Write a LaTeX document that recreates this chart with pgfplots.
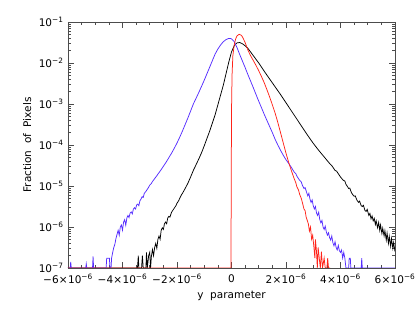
\documentclass[border=0pt]{standalone}
\usepackage{fontspec}
\setmainfont{DejaVu Sans}
\usepackage{pgfplots}
\pgfplotsset{compat=1.18}
\definecolor{myblue}{RGB}{85,45,255}
\definecolor{myred}{RGB}{255,35,25}
\newcommand{\sci}[2]{#1\kern0.3pt×\kern0.3pt10\textsuperscript{#2}}
\newcommand{\dec}[1]{10\textsuperscript{#1}}
\begin{document}
\begin{tikzpicture}
\path[use as bounding box] (0,0) rectangle (415pt,312pt);
\begin{axis}[
  at={(68pt,44pt)}, anchor=south west,
  scale only axis, width=327pt, height=246pt,
  ymode=log, xmin=-6, xmax=6, ymin=1e-7, ymax=1e-1,
  xtick={-6,-4,-2,0,2,4,6},
  xticklabels={\sci{−6}{−6},\sci{−4}{−6},\sci{−2}{−6},0,\sci{2}{−6},\sci{4}{−6},\sci{6}{−6}},
  minor x tick num=3,
  ytick={1e-7,1e-6,1e-5,1e-4,1e-3,1e-2,1e-1},
  yticklabels={\dec{−7},\dec{−6},\dec{−5},\dec{−4},\dec{−3},\dec{−2},\dec{−1}},
  minor ytick={2e-7,3e-7,4e-7,5e-7,6e-7,7e-7,8e-7,9e-7,
               2e-6,3e-6,4e-6,5e-6,6e-6,7e-6,8e-6,9e-6,
               2e-5,3e-5,4e-5,5e-5,6e-5,7e-5,8e-5,9e-5,
               2e-4,3e-4,4e-4,5e-4,6e-4,7e-4,8e-4,9e-4,
               2e-3,3e-3,4e-3,5e-3,6e-3,7e-3,8e-3,9e-3,
               2e-2,3e-2,4e-2,5e-2,6e-2,7e-2,8e-2,9e-2},
  tick align=inside,
  major tick length=6pt, minor tick length=3pt,
  axis line style={black!70, line width=0.6pt},
  every tick/.style={black!70, line width=0.5pt},
  tick label style={font=\fontsize{10.5}{12}\selectfont},
  xticklabel style={yshift=-3pt},
  yticklabel style={xshift=-1pt},
  label style={font=\fontsize{10.5}{12}\selectfont},
  xlabel={y\ \ parameter}, ylabel={Fraction\ \ of\ \ Pixels},
  xlabel style={at={(axis description cs:0.5,-0.114)}, anchor=center},
  ylabel style={at={(axis description cs:-0.125,0.5)}, anchor=center},
  every axis plot/.append style={line width=0.75pt},
]
% black series
\addplot[black] table {
-6.00 1e-7
-3.45 1e-7
-3.42 2.0e-7
-3.40 1e-7
-3.30 1e-7
-3.27 2.0e-7
-3.24 1e-7
-3.14 1e-7
-3.12 2.4e-7
-3.09 1e-7
-3.04 2.0e-7
-3.00 2.4e-7
-2.97 1e-7
-2.94 1.91e-7
-2.90 2.82e-7
-2.86 2.00e-7
-2.82 3.16e-7
-2.78 3.98e-7
-2.74 3.02e-7
-2.70 5.01e-7
-2.66 6.03e-7
-2.62 5.01e-7
-2.58 8.32e-7
-2.54 9.55e-7
-2.50 8.71e-7
-2.46 1.20e-6
-2.42 1.32e-6
-2.38 1.20e-6
-2.34 1.66e-6
-2.30 1.82e-6
-2.26 1.74e-6
-2.20 2.29e-6
-2.14 2.63e-6
-2.10 2.88e-6
-2.04 3.31e-6
-2.00 3.80e-6
-1.94 4.37e-6
-1.90 5.01e-6
-1.84 6.03e-6
-1.80 6.61e-6
-1.70 8.71e-6
-1.60 1.17e-5
-1.50 1.66e-5
-1.40 2.40e-5
-1.30 3.31e-5
-1.20 4.57e-5
-1.10 6.46e-5
-1.00 9.55e-5
-0.90 1.45e-4
-0.80 2.19e-4
-0.70 3.47e-4
-0.60 5.50e-4
-0.50 9.55e-4
-0.40 1.66e-3
-0.30 2.88e-3
-0.20 5.50e-3
-0.10 1.05e-2
0.00 1.86e-2
0.10 2.63e-2
0.20 3.09e-2
0.30 3.16e-2
0.40 2.95e-2
0.50 2.63e-2
0.60 2.29e-2
0.80 1.51e-2
1.00 1.00e-2
1.20 6.31e-3
1.40 4.07e-3
1.60 2.63e-3
1.80 1.70e-3
2.00 1.07e-3
2.20 6.76e-4
2.40 4.27e-4
2.60 2.69e-4
2.80 1.70e-4
3.00 1.10e-4
3.20 7.41e-5
3.40 5.13e-5
3.60 3.55e-5
3.70 3.02e-5
3.80 2.40e-5
3.86 2.29e-5
3.90 2.09e-5
4.00 1.66e-5
4.10 1.38e-5
4.16 1.32e-5
4.20 1.10e-5
4.30 8.71e-6
4.34 8.91e-6
4.40 6.92e-6
4.46 6.03e-6
4.50 5.62e-6
4.54 5.75e-6
4.60 4.57e-6
4.66 3.98e-6
4.70 4.27e-6
4.76 3.31e-6
4.80 3.16e-6
4.84 3.39e-6
4.90 2.51e-6
4.94 2.40e-6
4.98 2.69e-6
5.04 1.91e-6
5.08 2.14e-6
5.12 1.58e-6
5.16 1.86e-6
5.20 1.41e-6
5.24 1.62e-6
5.28 1.15e-6
5.31 1.41e-6
5.36 9.55e-7
5.40 1.29e-6
5.44 8.32e-7
5.47 1.12e-6
5.52 6.92e-7
5.55 9.33e-7
5.60 6.03e-7
5.63 8.13e-7
5.68 4.79e-7
5.71 7.08e-7
5.76 3.98e-7
5.79 5.89e-7
5.84 3.39e-7
5.87 5.25e-7
5.92 3.02e-7
5.95 4.17e-7
6.00 2.51e-7
};
% blue series
\addplot[myblue] table {
-6.00 1e-7
-5.92 1e-7
-5.90 1.41e-7
-5.88 1e-7
-5.35 1e-7
-5.33 1.26e-7
-5.31 1e-7
-5.10 1e-7
-5.08 1.91e-7
-5.06 1e-7
-4.60 1e-7
-4.58 1.74e-7
-4.48 1.74e-7
-4.46 1e-7
-4.42 1e-7
-4.40 1.74e-7
-4.36 2.40e-7
-4.32 3.16e-7
-4.28 3.80e-7
-4.24 5.25e-7
-4.20 6.61e-7
-4.16 8.32e-7
-4.12 6.31e-7
-4.08 1.00e-6
-4.04 1.12e-6
-4.00 8.32e-7
-3.96 1.32e-6
-3.92 1.51e-6
-3.88 1.10e-6
-3.84 1.66e-6
-3.80 1.91e-6
-3.76 1.70e-6
-3.72 2.19e-6
-3.68 2.34e-6
-3.64 2.09e-6
-3.60 2.75e-6
-3.56 2.95e-6
-3.52 2.75e-6
-3.48 3.47e-6
-3.44 3.63e-6
-3.40 3.31e-6
-3.36 4.37e-6
-3.32 4.79e-6
-3.28 5.50e-6
-3.24 5.25e-6
-3.20 6.61e-6
-3.14 7.41e-6
-3.10 8.13e-6
-3.04 9.33e-6
-3.00 1.05e-5
-2.94 1.15e-5
-2.90 1.29e-5
-2.84 1.45e-5
-2.80 1.58e-5
-2.74 1.78e-5
-2.70 1.95e-5
-2.60 2.40e-5
-2.50 3.02e-5
-2.40 3.80e-5
-2.30 4.90e-5
-2.20 6.31e-5
-2.10 8.32e-5
-2.00 1.12e-4
-1.90 1.55e-4
-1.80 2.19e-4
-1.70 3.16e-4
-1.60 4.57e-4
-1.50 6.76e-4
-1.40 1.00e-3
-1.30 1.38e-3
-1.20 1.91e-3
-1.10 2.69e-3
-1.00 3.80e-3
-0.90 5.50e-3
-0.80 7.94e-3
-0.70 1.15e-2
-0.60 1.66e-2
-0.50 2.19e-2
-0.40 2.75e-2
-0.30 3.31e-2
-0.20 3.72e-2
-0.10 3.98e-2
-0.05 3.98e-2
0.00 3.89e-2
0.10 3.31e-2
0.20 2.40e-2
0.30 1.62e-2
0.40 1.12e-2
0.50 7.76e-3
0.60 5.25e-3
0.70 3.63e-3
0.80 2.51e-3
0.90 1.70e-3
1.00 1.17e-3
1.10 8.13e-4
1.20 5.62e-4
1.30 3.98e-4
1.40 2.82e-4
1.50 2.00e-4
1.60 1.38e-4
1.70 1.00e-4
1.80 7.41e-5
1.90 5.62e-5
2.00 4.37e-5
2.10 3.55e-5
2.20 2.82e-5
2.30 2.19e-5
2.36 2.00e-5
2.40 1.74e-5
2.46 1.51e-5
2.50 1.38e-5
2.56 1.26e-5
2.60 1.05e-5
2.66 8.71e-6
2.70 9.12e-6
2.76 6.92e-6
2.80 5.75e-6
2.84 6.61e-6
2.88 4.79e-6
2.92 3.98e-6
2.96 4.57e-6
3.00 3.31e-6
3.04 2.75e-6
3.08 3.16e-6
3.12 2.19e-6
3.16 1.91e-6
3.20 2.29e-6
3.24 1.51e-6
3.28 1.26e-6
3.32 1.45e-6
3.36 1.00e-6
3.40 8.71e-7
3.44 1.05e-6
3.48 7.59e-7
3.52 6.31e-7
3.56 7.24e-7
3.60 5.50e-7
3.64 4.79e-7
3.68 6.03e-7
3.72 4.17e-7
3.76 3.47e-7
3.80 4.37e-7
3.84 3.16e-7
3.88 2.75e-7
3.92 3.55e-7
3.96 2.63e-7
4.00 2.40e-7
4.04 2.75e-7
4.08 1.74e-7
4.12 2.40e-7
4.16 1.74e-7
4.20 1e-7
4.30 1e-7
4.32 1.74e-7
4.36 1.74e-7
4.38 1e-7
4.76 1e-7
4.78 1.74e-7
4.80 1e-7
6.00 1e-7
};
% red series
\addplot[myred] table {
-6.00 1e-7
-0.02 1e-7
0.00 6.31e-4
0.02 5.01e-3
0.05 1.51e-2
0.10 2.75e-2
0.15 3.80e-2
0.20 4.57e-2
0.28 5.01e-2
0.35 4.79e-2
0.40 4.37e-2
0.50 3.16e-2
0.60 2.09e-2
0.70 1.51e-2
0.80 1.15e-2
0.90 8.71e-3
1.00 6.46e-3
1.10 4.68e-3
1.20 3.31e-3
1.30 2.24e-3
1.40 1.48e-3
1.50 9.55e-4
1.60 6.03e-4
1.70 3.55e-4
1.80 2.00e-4
1.90 1.12e-4
2.00 6.31e-5
2.10 3.72e-5
2.20 2.34e-5
2.30 1.51e-5
2.36 1.20e-5
2.40 9.55e-6
2.46 7.94e-6
2.50 6.31e-6
2.56 5.01e-6
2.60 3.98e-6
2.66 2.75e-6
2.70 2.51e-6
2.74 1.74e-6
2.78 1.45e-6
2.82 1.20e-6
2.86 7.94e-7
2.90 1.00e-6
2.94 5.01e-7
2.98 6.31e-7
3.02 3.47e-7
3.06 1.74e-7
3.08 5.01e-7
3.12 2.51e-7
3.15 1e-7
3.18 3.16e-7
3.22 1.74e-7
3.26 1e-7
3.30 2.51e-7
3.34 1e-7
3.40 1.74e-7
3.44 1e-7
3.50 1e-7
3.53 1.74e-7
3.56 1e-7
3.62 1e-7
};
\end{axis}
\end{tikzpicture}
\end{document}
